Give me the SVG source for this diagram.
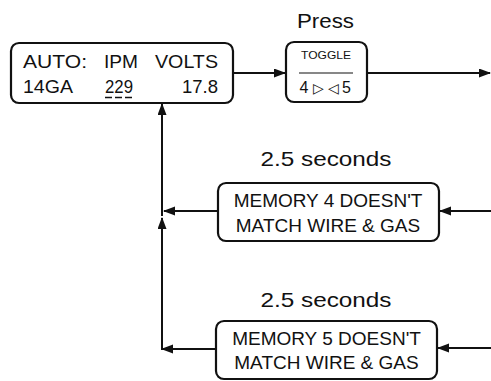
<svg xmlns="http://www.w3.org/2000/svg" width="491" height="381" viewBox="0 0 491 381">
  <style>
    .box { fill: #ffffff; stroke: #111111; stroke-width: 2.2; }
    .wire { fill: none; stroke: #111111; stroke-width: 2; }
    .t { font-family: "Liberation Sans", Arial, sans-serif; fill: #111111; }
    .disp { font-size: 18.5px; }
    .msg { font-size: 19px; text-anchor: middle; }
    .cap { font-size: 21px; text-anchor: middle; }
    .sym { font-family: "DejaVu Sans", sans-serif; fill: #111111; font-size: 14px; }
  </style>
  <defs>
    <marker id="arrow" markerUnits="userSpaceOnUse" markerWidth="13" markerHeight="10" refX="11" refY="4.5" orient="auto">
      <path d="M0,0 L12,4.5 L0,9 Z" fill="#111111"/>
    </marker>
  </defs>
  <rect width="491" height="381" fill="#ffffff"/>

  <!-- connectors -->
  <g id="connectors">
    <line class="wire" x1="233" y1="73" x2="285" y2="73" marker-end="url(#arrow)"/>
    <line class="wire" x1="367" y1="73" x2="490" y2="73" marker-end="url(#arrow)"/>
    <line class="wire" x1="491" y1="211" x2="440" y2="211" marker-end="url(#arrow)"/>
    <line class="wire" x1="218" y1="211" x2="164" y2="211" marker-end="url(#arrow)"/>
    <line class="wire" x1="162" y1="216" x2="162" y2="104" marker-end="url(#arrow)"/>
    <line class="wire" x1="491" y1="348" x2="438" y2="348" marker-end="url(#arrow)"/>
    <line class="wire" x1="216" y1="349" x2="162" y2="349" marker-end="url(#arrow)"/>
    <line class="wire" x1="162" y1="350" x2="162" y2="218" marker-end="url(#arrow)"/>
  </g>

  <!-- display panel -->
  <g id="display">
    <rect class="box" x="11" y="43" width="222" height="60" rx="8"/>
    <text class="t disp" x="23" y="68" textLength="64" lengthAdjust="spacingAndGlyphs">AUTO:</text>
    <text class="t disp" x="104" y="68" textLength="34" lengthAdjust="spacingAndGlyphs">IPM</text>
    <text class="t disp" x="155" y="68" textLength="63" lengthAdjust="spacingAndGlyphs">VOLTS</text>
    <text class="t disp" x="23" y="93" textLength="50" lengthAdjust="spacingAndGlyphs">14GA</text>
    <text class="t disp" x="105" y="93" textLength="28" lengthAdjust="spacingAndGlyphs">229</text>
    <text class="t disp" x="182" y="93" textLength="36" lengthAdjust="spacingAndGlyphs">17.8</text>
    <line x1="105" y1="97.5" x2="134" y2="97.5" stroke="#111111" stroke-width="1.3" stroke-dasharray="7,3"/>
  </g>

  <!-- toggle key -->
  <g id="press-label">
    <text class="t cap" x="325.5" y="28" textLength="57" lengthAdjust="spacingAndGlyphs">Press</text>
  </g>
  <g id="toggle">
    <rect class="box" x="286" y="42" width="81" height="60" rx="8"/>
    <text class="t" x="326" y="59" font-size="10" text-anchor="middle" textLength="50" lengthAdjust="spacingAndGlyphs">TOGGLE</text>
    <line x1="299" y1="73" x2="353" y2="73" stroke="#111111" stroke-width="1.2"/>
    <text class="t" x="299.5" y="93" font-size="16">4</text>
    <text class="sym" x="313" y="92.5">▷</text>
    <text class="sym" x="328" y="92.5">◁</text>
    <text class="t" x="342" y="93" font-size="16">5</text>
  </g>

  <!-- memory 4 message -->
  <g id="delay-4">
    <text class="t cap" x="326" y="166" textLength="131" lengthAdjust="spacingAndGlyphs">2.5 seconds</text>
  </g>
  <g id="memory-4">
    <rect class="box" x="218" y="183" width="221" height="58" rx="8"/>
    <text class="t msg" x="328" y="207">MEMORY 4 DOESN'T</text>
    <text class="t msg" x="328" y="231.5">MATCH WIRE &amp; GAS</text>
  </g>

  <!-- memory 5 message -->
  <g id="delay-5">
    <text class="t cap" x="326" y="307" textLength="131" lengthAdjust="spacingAndGlyphs">2.5 seconds</text>
  </g>
  <g id="memory-5">
    <rect class="box" x="216" y="321" width="221" height="58" rx="8"/>
    <text class="t msg" x="326.5" y="344.5">MEMORY 5 DOESN'T</text>
    <text class="t msg" x="326.5" y="368.5">MATCH WIRE &amp; GAS</text>
  </g>
</svg>
